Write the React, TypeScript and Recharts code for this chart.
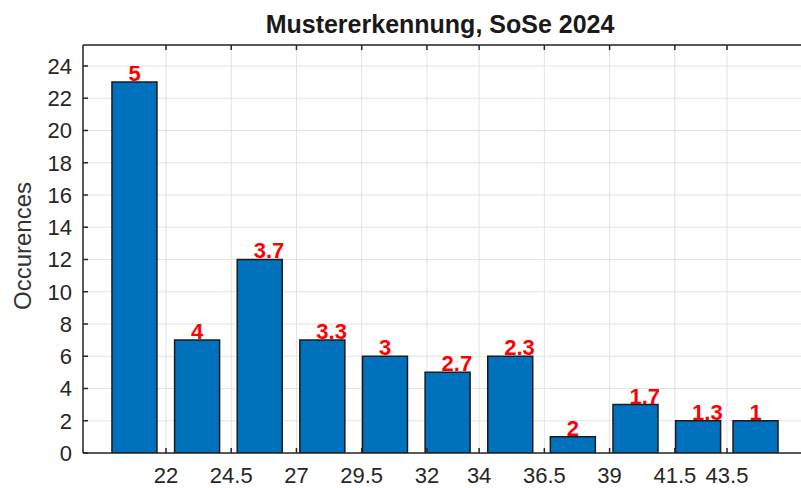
import React from 'react';
import { ComposedChart, Bar, XAxis, YAxis, CartesianGrid, LabelList } from 'recharts';

const binCenters = [20.8, 23.2, 25.6, 28, 30.4, 32.8, 35.2, 37.6, 40, 42.4, 44.6];
const occurrences = [23, 7, 12, 7, 6, 5, 6, 1, 3, 2, 2];
const grades = ['5', '4', '3.7', '3.3', '3', '2.7', '2.3', '2', '1.7', '1.3', '1'];
const xTicks = [22, 24.5, 27, 29.5, 32, 34, 36.5, 39, 41.5, 43.5];
const yTicks = [0, 2, 4, 6, 8, 10, 12, 14, 16, 18, 20, 22, 24];
const xDomain = [18.82, 46.68];
const yDomain = [0, 25.3];
const title = 'Mustererkennung, SoSe 2024';
const yLabel = 'Occurences';

const data = binCenters.map((x, i) => ({ x, count: occurrences[i], grade: grades[i] }));

const FONT = '"Liberation Sans", Arial, Helvetica, sans-serif';
const AXIS = '#262626';

const GradeLabel = (props: any) => {
  const { x, y, width, value } = props;
  return (
    <text
      x={x + width / 2 - 6}
      y={y - 1}
      fill="#ff0000"
      fontSize={22}
      fontWeight="bold"
      fontFamily={FONT}
      textAnchor="start"
    >
      {value}
    </text>
  );
};

export default function App() {
  return (
    <div
      style={{
        position: 'absolute',
        left: 0,
        top: 0,
        width: 801,
        height: 488,
        overflow: 'hidden',
        background: '#ffffff',
      }}
    >
      <div
        style={{
          position: 'absolute',
          left: 440,
          top: 12,
          transform: 'translateX(-50%)',
          whiteSpace: 'nowrap',
          fontFamily: FONT,
          fontWeight: 'bold',
          fontSize: 25,
          lineHeight: 1,
          color: '#1a1a1a',
        }}
      >
        {title}
      </div>
      <ComposedChart
        width={810}
        height={488}
        data={data}
        margin={{ top: 15, right: 0, bottom: 0, left: 0 }}
      >
        <CartesianGrid
          xAxisId="bottom"
          yAxisId="left"
          stroke="#e2e2e2"
          strokeWidth={1}
        />
        <XAxis
          xAxisId="top"
          orientation="top"
          type="number"
          dataKey="x"
          domain={xDomain}
          ticks={xTicks}
          interval={0}
          allowDataOverflow
          height={30}
          axisLine={{ stroke: AXIS, strokeWidth: 1.5 }}
          tickLine={{ stroke: AXIS, strokeWidth: 1.5 }}
          tickSize={-5}
          tickFormatter={() => ''}
        />
        <XAxis
          xAxisId="bottom"
          type="number"
          dataKey="x"
          domain={xDomain}
          ticks={xTicks}
          interval={0}
          allowDataOverflow
          height={35}
          axisLine={{ stroke: AXIS, strokeWidth: 1.5 }}
          tickLine={{ stroke: AXIS, strokeWidth: 1.5 }}
          tickSize={-5}
          tickMargin={19}
          tick={{ fill: AXIS, fontSize: 22, fontFamily: FONT }}
        />
        <YAxis
          yAxisId="left"
          type="number"
          domain={yDomain}
          ticks={yTicks}
          interval={0}
          allowDataOverflow
          width={83}
          axisLine={{ stroke: AXIS, strokeWidth: 1.5 }}
          tickLine={{ stroke: AXIS, strokeWidth: 1.5 }}
          tickSize={-5}
          tickMargin={16}
          tick={{ fill: AXIS, fontSize: 22, fontFamily: FONT }}
          label={{
            value: yLabel,
            angle: -90,
            position: 'center',
            dx: -19,
            dy: -3,
            style: { fill: '#333333', fontSize: 24, fontFamily: FONT },
          }}
        />
        <Bar
          xAxisId="bottom"
          yAxisId="left"
          dataKey="count"
          barSize={45}
          fill="#0072BD"
          stroke="#1a1a1a"
          strokeWidth={1.5}
          isAnimationActive={false}
        >
          <LabelList dataKey="grade" content={GradeLabel} />
        </Bar>
      </ComposedChart>
    </div>
  );
}
